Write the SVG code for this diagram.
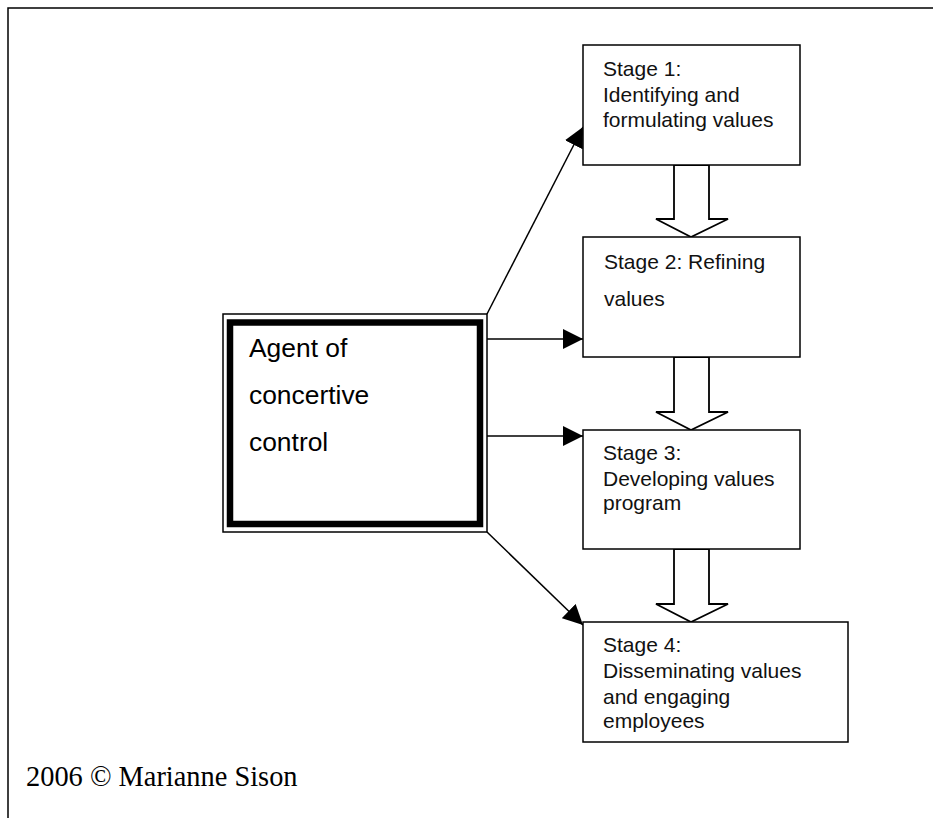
<svg xmlns="http://www.w3.org/2000/svg" width="933" height="818" viewBox="0 0 933 818">
<defs>
<style>
.box{fill:#fff;stroke:#000;stroke-width:1.5}
.t{font-family:"Liberation Sans",Arial,sans-serif;font-size:21px;fill:#111}
.big{font-family:"Liberation Sans",Arial,sans-serif;font-size:26.4px;fill:#000}
.conn{stroke:#000;stroke-width:1.5;fill:none}
.hollow{fill:#fff;stroke:#000;stroke-width:1.8;stroke-linejoin:miter}
</style>
<marker id="ah" markerUnits="userSpaceOnUse" markerWidth="20" markerHeight="20" refX="20" refY="10" orient="auto" viewBox="0 0 20 20">
<path d="M0,0 L20,10 L0,20 z" fill="#000"/>
</marker>
</defs>
<rect width="933" height="818" fill="#fff"/>
<path d="M8,818 V8 H933" fill="none" stroke="#000" stroke-width="1.5"/>

<g id="connectors">
<line class="conn" x1="487" y1="314" x2="583" y2="127" marker-end="url(#ah)"/>
<line class="conn" x1="487" y1="339" x2="583" y2="339" marker-end="url(#ah)"/>
<line class="conn" x1="487" y1="436" x2="583" y2="436" marker-end="url(#ah)"/>
<line class="conn" x1="487" y1="532" x2="583" y2="625" marker-end="url(#ah)"/>
<polygon class="hollow" points="674,165 674,219 656,219 691,237 728,219 709,219 709,165"/>
<polygon class="hollow" points="674,357 674,412 656,412 691,430 728,412 709,412 709,357"/>
<polygon class="hollow" points="674,549 674,604 656,604 691,622 728,604 709,604 709,549"/>
</g>

<g id="agent">
<rect x="223" y="314" width="264" height="218" fill="#fff" stroke="#000" stroke-width="1.5"/>
<rect x="230" y="322.5" width="250" height="201.5" fill="#fff" stroke="#000" stroke-width="6.5"/>
<text class="big" x="249" y="357">Agent of</text>
<text class="big" x="249" y="404">concertive</text>
<text class="big" x="249" y="451">control</text>
</g>

<g id="stage1">
<rect class="box" x="583" y="45" width="217" height="120"/>
<text class="t" x="603" y="76">Stage 1:</text>
<text class="t" x="603" y="102">Identifying and</text>
<text class="t" x="603" y="127">formulating values</text>
</g>

<g id="stage2">
<rect class="box" x="583" y="237" width="217" height="120"/>
<text class="t" x="604" y="269">Stage 2: Refining</text>
<text class="t" x="604" y="306">values</text>
</g>

<g id="stage3">
<rect class="box" x="583" y="430" width="217" height="119"/>
<text class="t" x="603" y="460">Stage 3:</text>
<text class="t" x="603" y="486">Developing values</text>
<text class="t" x="603" y="510">program</text>
</g>

<g id="stage4">
<rect class="box" x="583" y="622" width="265" height="120"/>
<text class="t" x="603" y="652">Stage 4:</text>
<text class="t" x="603" y="678">Disseminating values</text>
<text class="t" x="603" y="704">and engaging</text>
<text class="t" x="603" y="728">employees</text>
</g>

<text x="26" y="786" font-family="'Liberation Serif','Times New Roman',serif" font-size="28.4" fill="#000">2006 © Marianne Sison</text>
</svg>
